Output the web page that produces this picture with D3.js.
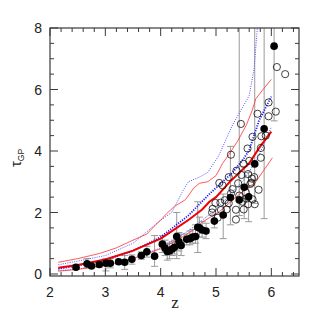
<!DOCTYPE html>
<html>
<head>
<meta charset="utf-8">
<script src="https://cdn.jsdelivr.net/npm/d3@7"></script>
<style>
  body { margin: 0; background: #fff; }
  svg { display: block; }
</style>
</head>
<body>
<div id="chart"></div>
<script>
// ---- data ----
// filled points: redshift, tau, error bar low / high
var fillZ  = [2.47, 2.67, 2.75, 2.89, 3.01, 3.09, 3.24, 3.35, 3.48, 3.65, 3.75, 3.89,
              4.03, 4.08, 4.12, 4.16, 4.21, 4.25, 4.29, 4.33, 4.37, 4.47, 4.53, 4.58,
              4.63, 4.67, 4.70, 4.75, 4.82, 4.97, 5.13, 5.26, 5.42, 5.51, 5.59, 5.70,
              5.87, 6.05];
var fillT  = [0.22, 0.33, 0.26, 0.31, 0.35, 0.35, 0.40, 0.38, 0.48, 0.60, 0.72, 0.58,
              0.97, 0.84, 0.73, 0.75, 0.81, 0.87, 1.22, 1.05, 0.93, 1.13, 1.15, 1.20,
              1.22, 1.52, 1.50, 1.43, 1.40, 1.72, 1.92, 2.49, 2.41, 2.82, 2.51, 3.58,
              4.72, 7.41];
var fillLo = [0.15, 0.20, 0.20, 0.22, 0.10, 0.20, 0.32, 0.15, 0.32, 0.48, 0.55, 0.25,
              0.70, 0.60, 0.45, 0.50, 0.60, 0.65, 0.50, 0.75, 0.60, 0.95, 0.95, 1.00,
              1.00, 0.70, 1.20, 1.20, 1.15, 1.50, 1.15, 1.60, 1.90, 1.80, 1.70, 2.30,
              1.80, 4.98];
var fillHi = [0.30, 0.50, 0.33, 0.40, 0.50, 0.50, 0.48, 0.60, 0.62, 0.72, 0.90, 1.25,
              1.25, 1.10, 1.00, 1.00, 1.05, 1.10, 2.00, 1.35, 1.30, 1.30, 1.40, 1.45,
              1.60, 2.35, 1.85, 1.70, 1.65, 1.95, 2.60, 4.15, 9.00, 3.50, 3.30, 9.00,
              9.00, 9.00];

// open points
var openZ = [5.06, 5.27, 5.45, 5.23, 5.37, 5.50, 5.57, 5.60, 5.66, 5.75, 5.82, 5.90,
             5.95, 5.95, 6.08, 6.10, 6.25, 5.81, 5.81, 5.77, 5.70, 5.66, 5.65, 5.64,
             5.58, 5.54, 5.48, 5.36, 5.36, 5.30, 5.23, 5.19, 5.16, 5.09, 5.03, 4.94,
             4.93, 4.99, 5.08, 5.40, 5.46, 5.50, 5.58, 5.62, 5.69, 5.12, 5.42, 5.55,
             5.27];
var openT = [2.96, 3.88, 4.88, 3.15, 3.36, 3.58, 4.08, 3.68, 4.46, 5.21, 4.48, 4.50,
             5.58, 5.13, 5.28, 6.73, 6.50, 4.10, 3.78, 2.74, 2.27, 2.43, 3.10, 2.97,
             3.25, 2.65, 2.35, 2.09, 1.77, 2.76, 2.30, 2.10, 2.40, 2.08, 1.83, 2.12,
             2.00, 2.31, 2.32, 2.95, 3.22, 2.10, 2.27, 2.93, 3.15, 2.88, 2.55, 2.45,
             2.62];

// model curves
var redMeanZ = [2.15, 2.5, 3.0, 3.5, 4.0, 4.25, 4.52, 4.75, 4.88, 5.0, 5.24, 5.6, 5.78, 6.0];
var redMeanT = [0.20, 0.29, 0.47, 0.76, 1.15, 1.45, 1.78, 2.1, 2.35, 2.5, 2.98, 3.6, 4.1, 4.63];

var redHiZ = [2.15, 2.5, 2.9, 3.2, 3.5, 3.75, 3.92, 4.0, 4.1, 4.25, 4.45, 4.6, 4.7, 4.85,
              5.0, 5.12, 5.24, 5.4, 5.55, 5.65, 5.72, 5.85, 6.0];
var redHiT = [0.38, 0.50, 0.67, 0.85, 1.10, 1.30, 1.62, 1.75, 1.95, 2.20, 2.42, 2.80, 2.95, 3.00,
              3.20, 3.60, 3.90, 4.35, 4.85, 5.30, 5.70, 6.00, 6.33];

var redLoZ = [2.15, 2.5, 3.0, 3.5, 4.0, 4.3, 4.6, 4.76, 5.06, 5.36, 5.72, 6.02];
var redLoT = [0.09, 0.15, 0.28, 0.50, 0.82, 1.10, 1.45, 1.70, 2.02, 2.50, 3.00, 3.78];

var blueMeanZ = [2.15, 2.5, 3.0, 3.5, 4.0, 4.5, 4.88, 5.3, 5.5, 5.6, 5.78, 6.0];
var blueMeanT = [0.17, 0.27, 0.46, 0.75, 1.20, 1.90, 2.60, 3.30, 3.75, 4.03, 5.00, 5.77];

var blueHiZ = [2.15, 2.5, 3.0, 3.5, 4.0, 4.2, 4.4, 4.5, 4.7, 4.85, 5.05, 5.3, 5.6, 5.69, 5.76];
var blueHiT = [0.30, 0.42, 0.60, 1.00, 1.75, 2.00, 2.70, 3.00, 3.15, 3.30, 3.85, 4.85, 5.80, 6.70, 8.30];

var blueLoZ = [2.15, 2.5, 3.0, 3.5, 4.0, 4.5, 5.0, 5.5, 5.75, 6.0];
var blueLoT = [0.11, 0.16, 0.29, 0.51, 0.85, 1.40, 2.10, 3.05, 3.75, 4.78];

var xTicks = [2, 3, 4, 5, 6];
var yTicks = [0, 2, 4, 6, 8];

// ---- layout ----
var W = 327, H = 327;
var m = { left: 50, right: 299, top: 28, bottom: 276 };

var svg = d3.select("#chart").append("svg")
  .attr("width", W).attr("height", H);

var x = d3.scaleLinear().domain([2, 6.5]).range([m.left, m.right]);
var y = d3.scaleLinear().domain([-0.065, 8]).range([m.bottom, m.top]);

svg.append("clipPath").attr("id", "plotclip")
  .append("rect")
  .attr("x", m.left).attr("y", m.top)
  .attr("width", m.right - m.left).attr("height", m.bottom - m.top);

var plot = svg.append("g").attr("clip-path", "url(#plotclip)");

function pairs(zs, ts) {
  return zs.map(function(z, i) { return [z, ts[i]]; });
}
var line = d3.line().x(function(d) { return x(d[0]); }).y(function(d) { return y(d[1]); });

// error bars
var bars = plot.append("g").attr("stroke", "#9a9a9a").attr("stroke-width", 1).attr("fill", "none");
fillZ.forEach(function(z, i) {
  var cx = x(z);
  bars.append("line").attr("x1", cx).attr("x2", cx)
    .attr("y1", y(fillLo[i])).attr("y2", y(fillHi[i]));
  [fillLo[i], fillHi[i]].forEach(function(v) {
    if (v < 8) {
      bars.append("line").attr("x1", cx - 3.5).attr("x2", cx + 3.5)
        .attr("y1", y(v)).attr("y2", y(v));
    }
  });
});

// curves
plot.append("path").datum(pairs(blueHiZ, blueHiT)).attr("d", line)
  .attr("fill", "none").attr("stroke", "#5555ff").attr("stroke-width", 1)
  .attr("stroke-dasharray", "1,1.3");
plot.append("path").datum(pairs(blueLoZ, blueLoT)).attr("d", line)
  .attr("fill", "none").attr("stroke", "#5555ff").attr("stroke-width", 1)
  .attr("stroke-dasharray", "1,1.3");
plot.append("path").datum(pairs(redHiZ, redHiT)).attr("d", line)
  .attr("fill", "none").attr("stroke", "#ff3030").attr("stroke-width", 0.8);
plot.append("path").datum(pairs(redLoZ, redLoT)).attr("d", line)
  .attr("fill", "none").attr("stroke", "#ff3030").attr("stroke-width", 0.8);
plot.append("path").datum(pairs(blueMeanZ, blueMeanT)).attr("d", line)
  .attr("fill", "none").attr("stroke", "#1a1aff").attr("stroke-width", 1.8)
  .attr("stroke-dasharray", "1.2,1.3");
plot.append("path").datum(pairs(redMeanZ, redMeanT)).attr("d", line)
  .attr("fill", "none").attr("stroke", "#f00000").attr("stroke-width", 2);

// open circles
plot.append("g").selectAll("circle")
  .data(pairs(openZ, openT))
  .enter().append("circle")
  .attr("cx", function(d) { return x(d[0]); })
  .attr("cy", function(d) { return y(d[1]); })
  .attr("r", 3.6)
  .attr("fill", "none").attr("stroke", "#111").attr("stroke-width", 0.8);

// filled circles
plot.append("g").selectAll("circle")
  .data(pairs(fillZ, fillT))
  .enter().append("circle")
  .attr("cx", function(d) { return x(d[0]); })
  .attr("cy", function(d) { return y(d[1]); })
  .attr("r", 3.8)
  .attr("fill", "#000");

// ---- frame and ticks (inward, all four sides) ----
var axc = "#3a3a3a";
svg.append("rect").attr("x", m.left).attr("y", m.top)
  .attr("width", m.right - m.left).attr("height", m.bottom - m.top)
  .attr("fill", "none").attr("stroke", axc).attr("stroke-width", 1.2);

var xMinor = d3.range(2, 6.5001, 0.2);
var yMinor = d3.range(0, 8.0001, 0.5);

function isMajor(v, list) {
  return list.some(function(t) { return Math.abs(t - v) < 1e-6; });
}

var tk = svg.append("g").attr("stroke", axc).attr("stroke-width", 1);
xMinor.forEach(function(v) {
  var len = isMajor(v, xTicks) ? 8 : 4;
  tk.append("line").attr("x1", x(v)).attr("x2", x(v)).attr("y1", m.bottom).attr("y2", m.bottom - len);
  tk.append("line").attr("x1", x(v)).attr("x2", x(v)).attr("y1", m.top).attr("y2", m.top + len);
});
yMinor.forEach(function(v) {
  var len = isMajor(v, yTicks) ? 8 : 4;
  tk.append("line").attr("y1", y(v)).attr("y2", y(v)).attr("x1", m.left).attr("x2", m.left + len);
  tk.append("line").attr("y1", y(v)).attr("y2", y(v)).attr("x1", m.right).attr("x2", m.right - len);
});

// tick labels
var labelFont = "Liberation Sans, Arial, sans-serif";
svg.append("g").selectAll("text").data(xTicks).enter().append("text")
  .attr("x", function(d) { return x(d); })
  .attr("y", 297)
  .attr("text-anchor", "middle")
  .attr("font-family", labelFont).attr("font-size", 14).attr("fill", "#222")
  .text(function(d) { return d; });
svg.append("g").selectAll("text").data(yTicks).enter().append("text")
  .attr("x", 42)
  .attr("y", function(d) { return y(d) + 5; })
  .attr("text-anchor", "end")
  .attr("font-family", labelFont).attr("font-size", 14).attr("fill", "#222")
  .text(function(d) { return d; });

// axis titles
svg.append("text")
  .attr("x", 175).attr("y", 308)
  .attr("text-anchor", "middle")
  .attr("font-family", "Liberation Serif, Times New Roman, serif")
  .attr("font-size", 17).attr("fill", "#222")
  .text("z");

var yl = svg.append("text")
  .attr("transform", "translate(21,158) rotate(-90)")
  .attr("text-anchor", "middle")
  .attr("font-family", labelFont).attr("fill", "#222");
yl.append("tspan").attr("font-size", 15).text("τ");
yl.append("tspan").attr("font-size", 8.5).attr("dy", 3).text("GP");
</script>
</body>
</html>
